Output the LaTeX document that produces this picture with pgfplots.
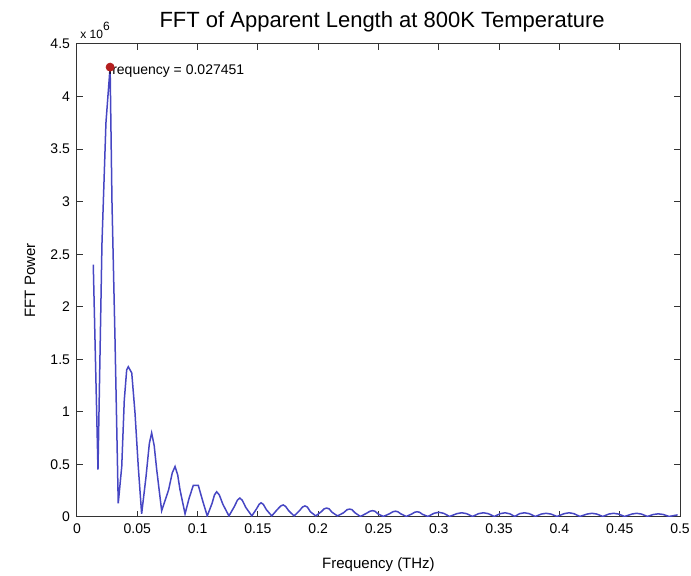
\documentclass[border=0pt]{standalone}
\usepackage{pgfplots}
\pgfplotsset{compat=1.18}
\usepackage{pgfplotstable}
\usepackage{fontspec}
\setmainfont{Liberation Sans}
\definecolor{fftblue}{RGB}{70,70,195}
\definecolor{peakred}{RGB}{180,30,30}
% power in units of 10^6
\pgfplotstableread{
f p
0.0135 2.40
0.0174 0.45
0.0207 2.60
0.0240 3.75
0.02745 4.28
0.0290 3.00
0.0315 1.70
0.0342 0.13
0.0371 0.48
0.0392 1.11
0.0412 1.40
0.0425 1.43
0.0454 1.37
0.0481 0.99
0.0508 0.48
0.0536 0.03
0.0572 0.38
0.0600 0.70
0.0619 0.80
0.0640 0.68
0.0661 0.45
0.0702 0.06
0.0760 0.26
0.0790 0.42
0.0813 0.48
0.0835 0.40
0.0854 0.26
0.0896 0.03
0.0930 0.18
0.0964 0.30
0.1006 0.30
0.1043 0.15
0.1080 0.01
0.1120 0.13
0.1140 0.21
0.1158 0.24
0.1180 0.21
0.1210 0.12
0.1260 0.01
0.1305 0.10
0.1330 0.16
0.1350 0.18
0.1370 0.16
0.1400 0.09
0.1450 0.01
0.1490 0.08
0.1510 0.12
0.1526 0.135
0.1545 0.12
0.1570 0.07
0.1615 0.01
0.1660 0.07
0.1690 0.105
0.1710 0.115
0.1730 0.10
0.1755 0.06
0.1800 0.01
0.1845 0.06
0.1870 0.095
0.1890 0.105
0.1910 0.095
0.1935 0.05
0.1980 0.01
0.2025 0.05
0.2050 0.078
0.2070 0.085
0.2090 0.078
0.2115 0.045
0.2160 0.01
0.2210 0.04
0.2240 0.07
0.2260 0.075
0.2280 0.07
0.2305 0.04
0.2350 0.005
0.2400 0.035
0.2430 0.055
0.2450 0.06
0.2470 0.055
0.2495 0.03
0.2540 0.005
0.2590 0.03
0.2620 0.05
0.2640 0.055
0.2660 0.05
0.2685 0.03
0.2730 0.005
0.2775 0.028
0.2800 0.045
0.2820 0.05
0.2840 0.045
0.2865 0.025
0.2910 0.005
0.2960 0.035
0.3000 0.045
0.3040 0.035
0.3090 0.005
0.3150 0.032
0.3190 0.04
0.3230 0.032
0.3280 0.005
0.3330 0.032
0.3370 0.04
0.3410 0.032
0.3460 0.005
0.3510 0.032
0.3550 0.04
0.3590 0.03
0.3630 0.005
0.3670 0.032
0.3710 0.04
0.3750 0.032
0.3800 0.005
0.3850 0.028
0.3890 0.035
0.3930 0.028
0.3980 0.005
0.4040 0.032
0.4080 0.04
0.4120 0.032
0.4170 0.005
0.4230 0.028
0.4270 0.035
0.4310 0.028
0.4360 0.005
0.4410 0.028
0.4450 0.035
0.4490 0.028
0.4540 0.005
0.4600 0.028
0.4640 0.035
0.4680 0.028
0.4730 0.005
0.4780 0.024
0.4820 0.03
0.4860 0.024
0.4910 0.005
0.4980 0.02
}\fftdata
\begin{document}
\begin{tikzpicture}
\begin{axis}[
  at={(0,0)}, anchor=south west,
  scale only axis, width=301.5pt, height=236.5pt,
  xmin=0, xmax=0.5, ymin=0, ymax=4.5,
  xtick={0,0.05,0.1,0.15,0.2,0.25,0.3,0.35,0.4,0.45,0.5},
  xticklabels={0,0.05,0.1,0.15,0.2,0.25,0.3,0.35,0.4,0.45,0.5},
  ytick={0,0.5,1,1.5,2,2.5,3,3.5,4,4.5},
  yticklabels={0,0.5,1,1.5,2,2.5,3,3.5,4,4.5},
  scaled ticks=false,
  tick align=inside, tick pos=both, major tick length=3pt,
  axis line style={line width=0.5pt, black!80},
  every tick/.style={black!80, line width=0.5pt},
  tick label style={font=\fontsize{7}{8}\selectfont},
  xlabel={Frequency (THz)}, ylabel={FFT Power},
  label style={font=\fontsize{7.5}{9}\selectfont},
  xlabel style={at={(axis description cs:0.5,-0.1015)}, anchor=center},
  ylabel style={at={(axis description cs:-0.078,0.5)}, anchor=center},
  title={FFT of Apparent Length at 800K Temperature},
  every axis title shift=0pt,
  title style={at={(axis description cs:0.506,1.0465)}, anchor=center, font=\fontsize{11}{13}\selectfont},
]
\addplot[fftblue, line width=0.75pt] table[x=f,y=p]{\fftdata};
\node[anchor=west, font=\fontsize{7}{8}\selectfont, inner sep=0pt] at (axis cs:0.0257,4.24) {frequency = 0.027451};
\addplot[only marks, mark=*, mark size=2pt, peakred] coordinates {(0.027451,4.28)};
\end{axis}
\node[anchor=south west, font=\fontsize{6}{7}\selectfont, inner sep=0pt] at (1.5pt,239pt) {x 10\raisebox{4pt}{6}};
\pgfresetboundingbox
\useasboundingbox (-38.5pt,-29.5pt) rectangle (307pt,258.5pt);
\end{tikzpicture}
\end{document}
